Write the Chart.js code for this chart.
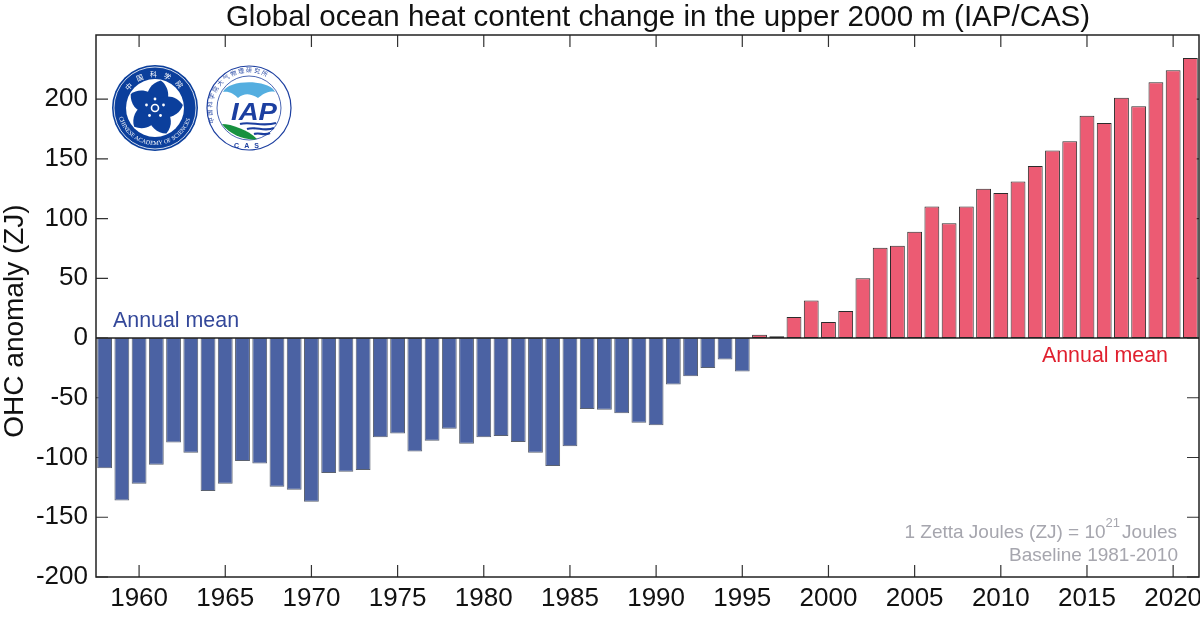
<!DOCTYPE html>
<html>
<head>
<meta charset="utf-8">
<title>Global ocean heat content change</title>
<script src="https://cdn.jsdelivr.net/npm/chart.js@4"></script>
<style>
	html, body { margin: 0; padding: 0; background: #fff; }
	#wrap { position: relative; width: 1200px; height: 620px; overflow: hidden; }
	#logos { position: absolute; left: 0; top: 0; pointer-events: none; }
</style>
</head>
<body>
<div id="wrap">
	<canvas id="ohc" width="1200" height="620"></canvas>
	<svg id="logos" width="1200" height="620" xmlns="http://www.w3.org/2000/svg"></svg>
</div>
<script>
const years = [];
for (let y = 1958; y <= 2021; y++) years.push(String(y));

const ohcAnomaly = [
	-109, -136, -122, -106, -87.5, -96, -128, -122, -103, -105,
	-124.5, -127, -137, -113, -112, -110.5, -83, -80, -95, -86,
	-76, -88.5, -83, -82, -87, -96, -107, -90.5, -59.5, -60,
	-63, -71, -73, -39, -32, -25, -18, -28, 2.8, 1.4,
	17.6, 31.5, 13.4, 22.6, 50, 75.6, 77.3, 89, 110, 96,
	110, 125, 121.3, 131, 144, 157, 164.6, 186, 180, 201,
	194, 214, 224, 234.3,
];

const yTicks = [-200, -150, -100, -50, 0, 50, 100, 150, 200];
const titleText = 'Global ocean heat content change in the upper 2000 m (IAP/CAS)';
const yTitleText = 'OHC anomaly (ZJ)';

const FONT = '"Liberation Sans", Arial, sans-serif';
const RED = '#EC5B73';
const BLUE = '#4B62A3';
const AXIS = '#222';

// inward ticks on all four sides, under the bars
const insideTicks = {
	id: 'insideTicks',
	beforeDatasetsDraw(chart) {
		const {ctx, chartArea: a, scales: {x, y}} = chart;
		const len = 12;
		ctx.save();
		ctx.strokeStyle = '#333';
		ctx.lineWidth = 1.2;
		ctx.beginPath();
		years.forEach((label, i) => {
			if (Number(label) % 5 !== 0) return;
			const px = x.getPixelForValue(i);
			ctx.moveTo(px, a.top);
			ctx.lineTo(px, a.top + len);
			ctx.moveTo(px, a.bottom);
			ctx.lineTo(px, a.bottom - len);
		});
		yTicks.forEach((v) => {
			const py = y.getPixelForValue(v);
			ctx.moveTo(a.left, py);
			ctx.lineTo(a.left + len, py);
			ctx.moveTo(a.right, py);
			ctx.lineTo(a.right - len, py);
		});
		ctx.stroke();
		ctx.restore();
	},
};

// frame, zero line, titles and the small notes inside the plot
const frameAndNotes = {
	id: 'frameAndNotes',
	afterDatasetsDraw(chart) {
		const {ctx, chartArea: a, scales: {y}} = chart;
		const zero = y.getPixelForValue(0);
		ctx.save();
		ctx.strokeStyle = AXIS;
		ctx.lineWidth = 1.5;
		ctx.strokeRect(a.left, a.top, a.right - a.left, a.bottom - a.top);
		ctx.beginPath();
		ctx.moveTo(a.left, zero);
		ctx.lineTo(a.right, zero);
		ctx.stroke();

		// the title is not centred on the plot in the original
		ctx.textAlign = 'center';
		ctx.textBaseline = 'alphabetic';
		ctx.font = '29.5px ' + FONT;
		ctx.fillStyle = '#111';
		ctx.fillText(titleText, 658, 26);

		// sits a bit below the centre of the axis too
		ctx.save();
		ctx.translate(15, 321);
		ctx.rotate(-Math.PI / 2);
		ctx.textBaseline = 'middle';
		ctx.font = '28px ' + FONT;
		ctx.fillText(yTitleText, 0, 0);
		ctx.restore();

		ctx.textBaseline = 'middle';
		ctx.font = '21.4px ' + FONT;
		ctx.fillStyle = '#34489A';
		ctx.textAlign = 'left';
		ctx.fillText('Annual mean', 113, y.getPixelForValue(14.2));
		ctx.fillStyle = '#E0202F';
		ctx.textAlign = 'right';
		ctx.fillText('Annual mean', 1168, y.getPixelForValue(-14.8));

		ctx.fillStyle = '#A6A6AE';
		ctx.font = '19px ' + FONT;
		ctx.fillText('Baseline 1981-2010', 1178, y.getPixelForValue(-182));
		const right = 1177;
		const noteY = y.getPixelForValue(-163);
		ctx.fillText('Joules', right, noteY);
		const joulesW = ctx.measureText('Joules').width;
		ctx.font = '13px ' + FONT;
		ctx.fillText('21', right - joulesW - 2, noteY - 9);
		const supW = ctx.measureText('21').width;
		ctx.font = '19px ' + FONT;
		ctx.fillText('1 Zetta Joules (ZJ) = 10', right - joulesW - 2 - supW, noteY);
		ctx.restore();
	},
};

new Chart(document.getElementById('ohc'), {
	type: 'bar',
	data: {
		labels: years,
		datasets: [{
			data: ohcAnomaly,
			backgroundColor: (c) => (c.raw < 0 ? BLUE : RED),
			borderColor: (c) => (c.raw < 0 ? '#5b6270' : '#2b2b2b'),
			borderWidth: 1,
			borderSkipped: false,
			barPercentage: 0.86,
			categoryPercentage: 1,
		}],
	},
	options: {
		responsive: false,
		animation: false,
		layout: {padding: {left: 0, right: 1, top: 35, bottom: 0}},
		plugins: {
			legend: {display: false},
			tooltip: {enabled: false},
		},
		scales: {
			x: {
				type: 'category',
				offset: true,
				grid: {display: false, drawTicks: false},
				border: {display: false},
				ticks: {
					autoSkip: false,
					maxRotation: 0,
					padding: 6,
					color: '#111',
					font: {family: FONT, size: 26},
					callback(value, i) {
						return Number(years[i]) % 5 === 0 ? years[i] : '';
					},
				},
				afterFit(scale) { scale.height = 43; },
			},
			y: {
				min: -200,
				max: 253.6,
				grid: {display: false, drawTicks: false},
				border: {display: false},
				ticks: {
					stepSize: 50,
					includeBounds: false,
					padding: 8,
					color: '#111',
					font: {family: FONT, size: 26},
					callback(value) {
						return yTicks.includes(value) ? value : '';
					},
				},
				afterFit(scale) { scale.width = 96; },
			},
		},
	},
	plugins: [insideTicks, frameAndNotes],
});

// the two institute badges, plain SVG on top of the chart
const badgeSvg = `
<defs>
	<path id="casTop" d="M124 108 a31 31 0 1 1 62 0"/>
	<path id="casBot" d="M118 108 a37 37 0 0 0 74 0"/>
	<path id="iapRing" d="M215 124 a37 37 0 1 1 68 0"/>
	<g id="petal"><path d="M-9 -4 C-13 -14 -10 -23 -1 -28 C7 -25 13 -15 9 -4Z"/></g>
</defs>
<circle cx="155" cy="108" r="43" fill="#0B3F9C"/>
<circle cx="155" cy="108" r="41" fill="none" stroke="#fff" stroke-width="0.8"/>
<circle cx="155" cy="108" r="29" fill="#fff"/>
<text font-family="Noto Sans CJK SC" font-size="7" fill="#fff" letter-spacing="6"><textPath href="#casTop" startOffset="18%">中国科学院</textPath></text>
<text font-family="Liberation Serif" font-size="6" fill="#fff"><textPath href="#casBot" startOffset="8%">CHINESE ACADEMY OF SCIENCES</textPath></text>
<g fill="#0B3F9C" transform="translate(155 108) rotate(14)">
	<circle r="11"/>
	<use href="#petal"/>
	<use href="#petal" transform="rotate(72)"/>
	<use href="#petal" transform="rotate(144)"/>
	<use href="#petal" transform="rotate(216)"/>
	<use href="#petal" transform="rotate(288)"/>
</g>
<circle cx="155" cy="108" r="3.5" fill="none" stroke="#fff" stroke-width="1.6"/>
<circle cx="249" cy="108" r="42" fill="#fff" stroke="#1C3FA0" stroke-width="1.2"/>
<circle cx="249" cy="108" r="32" fill="#fff" stroke="#1C3FA0" stroke-width="0.8"/>
<text font-family="Noto Sans CJK SC" font-size="6" fill="#1C3FA0" letter-spacing="1.6"><textPath href="#iapRing" startOffset="1%">中国科学院大气物理研究所</textPath></text>
<path d="M223 92 C228 79 270 79 275 92 C268 90 262 95 258 98 C250 93 244 93 238 98 C234 94 229 91 223 92Z" fill="#54AEE0"/>
<text x="231" y="120" textLength="46" lengthAdjust="spacingAndGlyphs" font-family="Liberation Sans" font-weight="bold" font-style="italic" font-size="24" fill="#1C3FA0">IAP</text>
<path d="M222 124 C232 124 250 131 257 139 C246 141 230 135 222 124Z" fill="#17913F"/>
<path d="M240 124 C250 121 262 127 276 123 M247 129 C256 126 264 132 274 128 M254 134 C260 132 264 136 270 133" fill="none" stroke="#1C3FA0" stroke-width="2.2"/>
<text x="249" y="148" text-anchor="middle" font-family="Liberation Sans" font-weight="bold" font-size="7" letter-spacing="5" fill="#1C3FA0">CAS</text>
`;
const logos = document.getElementById('logos');
logos.innerHTML = badgeSvg;
const dots = [[0, -9], [8.5, -3], [5.5, 7.5], [-5.5, 7.5], [-8.5, -3]];
dots.forEach(([dx, dy]) => {
	const c = document.createElementNS('http://www.w3.org/2000/svg', 'circle');
	c.setAttribute('cx', 155 + dx);
	c.setAttribute('cy', 108 + dy);
	c.setAttribute('r', 1.4);
	c.setAttribute('fill', '#fff');
	logos.appendChild(c);
});
</script>
</body>
</html>
